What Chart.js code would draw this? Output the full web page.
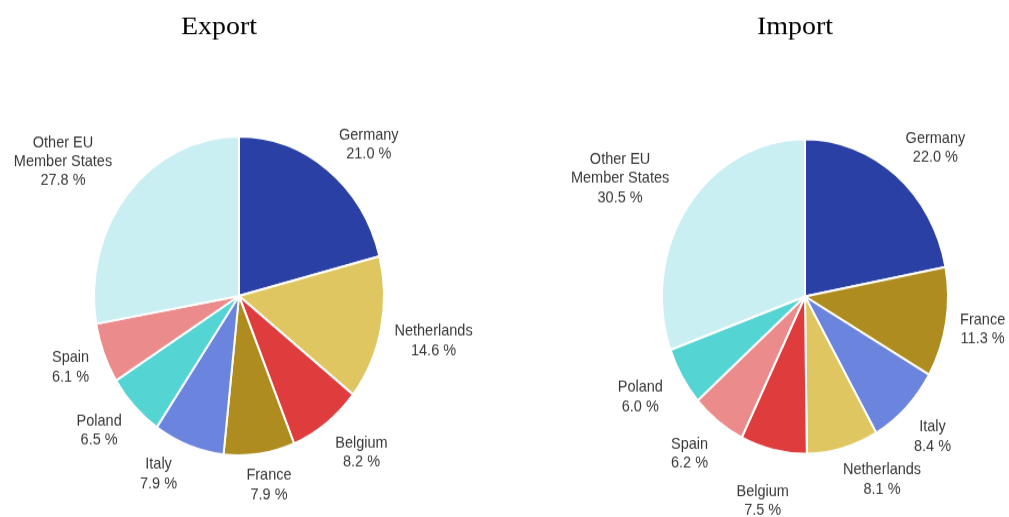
<!DOCTYPE html>
<html>
<head>
<meta charset="utf-8">
<script src="https://cdn.jsdelivr.net/npm/chart.js@4"></script>
<style>
  html, body { margin: 0; padding: 0; background: #ffffff; overflow: hidden; }
  #wrap { position: relative; width: 1009px; height: 517px; }
  canvas { position: absolute; top: 0; }
  #c1 { left: 0; width: 505px; height: 517px; }
  #c2 { left: 505px; width: 504px; height: 517px; }
</style>
</head>
<body>
<div id="wrap">
  <canvas id="c1" width="505" height="470" style="width:505px;height:517px"></canvas>
  <canvas id="c2" width="504" height="470" style="width:504px;height:517px"></canvas>
</div>
<script>
// ---- data ----
const exportCategories = ['Germany', 'Netherlands', 'Belgium', 'France', 'Italy', 'Poland', 'Spain', 'Other EU Member States'];
const exportValues = [21.0, 14.6, 8.2, 7.9, 7.9, 6.5, 6.1, 27.8];
const importCategories = ['Germany', 'France', 'Italy', 'Netherlands', 'Belgium', 'Spain', 'Poland', 'Other EU Member States'];
const importValues = [22.0, 11.3, 8.4, 8.1, 7.5, 6.2, 6.0, 30.5];
const chartTitles = ['Export', 'Import'];

// ---- styles ----
const countryColors = {
  'Germany': '#2a40a4',
  'Netherlands': '#dfc660',
  'Belgium': '#df3d3d',
  'France': '#ae8c20',
  'Italy': '#6b84de',
  'Poland': '#55d4d4',
  'Spain': '#eb8b8b',
  'Other EU Member States': '#c9eff2'
};
// small label placement tweaks (screen pixels) on top of the automatic outside placement
const exportLabelNudge = { 'Germany': [14, 13], 'Belgium': [10, -7], 'France': [5, -4], 'Italy': [-18, -7], 'Poland': [-6, -6], 'Other EU Member States': [-14, 15] };
const importLabelNudge = { 'Germany': [11, 10], 'Netherlands': [29, -10], 'Belgium': [-3, 14], 'Spain': [-6, 0], 'Poland': [-7, -2], 'Other EU Member States': [-13, 15] };
const STRETCH = 517 / 470; // vertical stretch of the canvas

function wrapLabel(s) {
  const w = s.split(' ');
  if (s.length > 14 && w.length > 2) return [w.slice(0, 2).join(' '), w.slice(2).join(' ')];
  return [s];
}

const sliceLabels = {
  id: 'sliceLabels',
  afterDatasetsDraw(chart, args, opts) {
    const ctx = chart.ctx;
    const meta = chart.getDatasetMeta(0);
    const ds = chart.data.datasets[0];
    const nudge = opts.nudge || {};
    const fontSize = 14.5, lineH = 17.3, pad = 12;
    ctx.save();
    ctx.font = fontSize + 'px "Liberation Sans", Arial, sans-serif';
    ctx.fillStyle = '#383838';
    ctx.textAlign = 'center';
    ctx.textBaseline = 'middle';
    meta.data.forEach((arc, i) => {
      const p = arc.getProps(['x', 'y', 'startAngle', 'endAngle', 'outerRadius'], true);
      const mid = (p.startAngle + p.endAngle) / 2;
      const c = Math.cos(mid), s = Math.sin(mid);
      const name = chart.data.labels[i];
      const lines = wrapLabel(name).concat([ds.data[i].toFixed(1) + ' %']);
      const halfW = Math.max(...lines.map(l => ctx.measureText(l).width)) / 2;
      const halfH = lines.length * lineH / 2;
      const off = p.outerRadius + pad + halfW * Math.abs(c) + halfH * Math.abs(s);
      const n = nudge[name] || [0, 0];
      const cx = p.x + c * off + n[0], cy = p.y + s * off + n[1] / STRETCH;
      lines.forEach((l, k) => {
        ctx.fillText(l, cx, cy - halfH + lineH * (k + 0.5));
      });
    });
    ctx.restore();
  }
};

const topTitle = {
  id: 'topTitle',
  afterDraw(chart, args, opts) {
    const ctx = chart.ctx;
    ctx.save();
    ctx.font = '28px "Liberation Serif", "Times New Roman", serif';
    ctx.fillStyle = '#000000';
    ctx.textAlign = 'center';
    ctx.textBaseline = 'alphabetic';
    ctx.translate(opts.x, 34 / STRETCH);
    ctx.scale(1, 0.89 / STRETCH);
    ctx.fillText(opts.text, 0, 0);
    ctx.restore();
  }
};

function makePie(id, cats, vals, title, radius, padding, titleX, nudge) {
  return new Chart(document.getElementById(id), {
    type: 'pie',
    data: {
      labels: cats,
      datasets: [{
        data: vals,
        backgroundColor: cats.map(c => countryColors[c]),
        borderColor: '#ffffff',
        borderWidth: 2,
        radius: radius
      }]
    },
    options: {
      responsive: false,
      animation: false,
      devicePixelRatio: 1,
      layout: { padding: padding },
      plugins: {
        legend: { display: false },
        title: { display: false },
        tooltip: { enabled: false },
        topTitle: { text: title, x: titleX },
        sliceLabels: { nudge: nudge }
      }
    },
    plugins: [sliceLabels, topTitle]
  });
}

makePie('c1', exportCategories, exportValues, chartTitles[0], 145, { left: 0, right: 27, top: 68, bottom: 0 }, 219, exportLabelNudge);
makePie('c2', importCategories, importValues, chartTitles[1], 143, { left: 96, right: 0, top: 69, bottom: 0 }, 290, importLabelNudge);
</script>
</body>
</html>
